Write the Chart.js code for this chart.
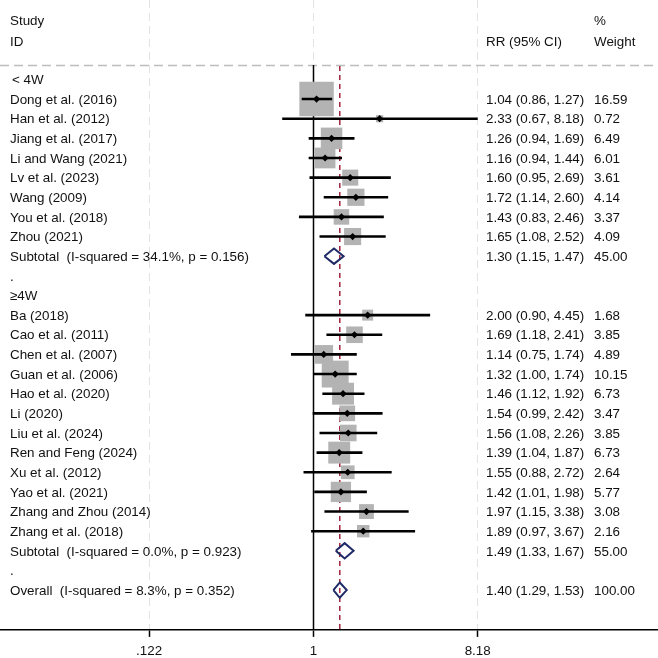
<!DOCTYPE html>
<html>
<head>
<meta charset="utf-8">
<script src="https://cdn.jsdelivr.net/npm/chart.js@4.4.1/dist/chart.umd.min.js"></script>
<style>
  html, body { margin: 0; padding: 0; background: #fff; }
  #wrap { width: 658px; height: 658px; position: relative; }
</style>
</head>
<body>
<div id="wrap"><canvas id="forest"></canvas></div>
<script>
// rows top to bottom
var rowLabels = ['< 4W', 'Dong et al. (2016)', 'Han et al. (2012)', 'Jiang et al. (2017)', 'Li and Wang (2021)',
  'Lv et al. (2023)', 'Wang (2009)', 'You et al. (2018)', 'Zhou (2021)',
  'Subtotal  (I-squared = 34.1%, p = 0.156)', '.', '\u22654W', 'Ba (2018)', 'Cao et al. (2011)',
  'Chen et al. (2007)', 'Guan et al. (2006)', 'Hao et al. (2020)', 'Li (2020)', 'Liu et al. (2024)',
  'Ren and Feng (2024)', 'Xu et al. (2012)', 'Yao et al. (2021)', 'Zhang and Zhou (2014)',
  'Zhang et al. (2018)', 'Subtotal  (I-squared = 0.0%, p = 0.923)', '.',
  'Overall  (I-squared = 8.3%, p = 0.352)'];
var rowKind = ['head', 'study', 'study', 'study', 'study', 'study', 'study', 'study', 'study', 'pool', 'blank', 'head',
  'study', 'study', 'study', 'study', 'study', 'study', 'study', 'study', 'study', 'study', 'study', 'study',
  'pool', 'blank', 'pool'];
var rr = [null, 1.04, 2.33, 1.26, 1.16, 1.60, 1.72, 1.43, 1.65, 1.30, null, null,
  2.00, 1.69, 1.14, 1.32, 1.46, 1.54, 1.56, 1.39, 1.55, 1.42, 1.97, 1.89, 1.49, null, 1.40];
var lo = [null, 0.86, 0.67, 0.94, 0.94, 0.95, 1.14, 0.83, 1.08, 1.15, null, null,
  0.90, 1.18, 0.75, 1.00, 1.12, 0.99, 1.08, 1.04, 0.88, 1.01, 1.15, 0.97, 1.33, null, 1.29];
var hi = [null, 1.27, 8.18, 1.69, 1.44, 2.69, 2.60, 2.46, 2.52, 1.47, null, null,
  4.45, 2.41, 1.74, 1.74, 1.92, 2.42, 2.26, 1.87, 2.72, 1.98, 3.38, 3.67, 1.67, null, 1.53];
var weight = [null, 16.59, 0.72, 6.49, 6.01, 3.61, 4.14, 3.37, 4.09, 45.00, null, null,
  1.68, 3.85, 4.89, 10.15, 6.73, 3.47, 3.85, 6.73, 2.64, 5.77, 3.08, 2.16, 55.00, null, 100.00];
var tickVals = [0.122, 1, 8.18];
var tickLabels = ['.122', '1', '8.18'];
var overallIdx = 26;

var FAMILY = '"Liberation Sans", Arial, sans-serif';
var FONT = '13.4px ' + FAMILY;
var ROW_H = 19.66, ROW0 = 79.5;

var markerPts = [], boxPts = [], boxRadius = [], ciPts = [], diamondPts = [];
for (var i = 0; i < rowKind.length; i++) {
  if (rowKind[i] === 'study') {
    markerPts.push({ x: rr[i], y: i });
    boxPts.push({ x: rr[i], y: i });
    boxRadius.push(8.45 * Math.sqrt(weight[i]) / Math.SQRT2);
    ciPts.push({ x: lo[i], y: i }, { x: hi[i], y: i }, { x: null, y: null });
  } else if (rowKind[i] === 'pool') {
    var h = 0.39;
    diamondPts.push({ x: lo[i], y: i }, { x: rr[i], y: i - h }, { x: hi[i], y: i },
      { x: rr[i], y: i + h }, { x: lo[i], y: i }, { x: null, y: null });
  }
}

var forestText = {
  id: 'forestText',
  beforeDatasetsDraw: function(chart) {
    var ctx = chart.ctx, xs = chart.scales.x, area = chart.chartArea;
    ctx.save();
    // header separator
    ctx.strokeStyle = '#bdbdbd';
    ctx.lineWidth = 1.5;
    ctx.setLineDash([9, 5]);
    ctx.beginPath();
    ctx.moveTo(0, 65.5);
    ctx.lineTo(658, 65.5);
    ctx.stroke();
    // null line
    ctx.setLineDash([]);
    ctx.strokeStyle = '#000';
    ctx.beginPath();
    ctx.moveTo(xs.getPixelForValue(1), 65);
    ctx.lineTo(xs.getPixelForValue(1), area.bottom);
    ctx.stroke();
    // overall effect line
    var ox = xs.getPixelForValue(rr[overallIdx]);
    ctx.strokeStyle = '#a3243b';
    ctx.setLineDash([5, 4]);
    ctx.beginPath();
    ctx.moveTo(ox, 66);
    ctx.lineTo(ox, area.bottom);
    ctx.stroke();
    ctx.restore();
  },
  afterDatasetsDraw: function(chart) {
    var ctx = chart.ctx, ys = chart.scales.y;
    ctx.save();
    ctx.font = FONT;
    ctx.fillStyle = '#111';
    ctx.textBaseline = 'middle';
    ctx.fillText('Study', 10, 21);
    ctx.fillText('ID', 10, 42);
    ctx.fillText('RR (95% CI)', 486, 42);
    ctx.fillText('%', 594, 21);
    ctx.fillText('Weight', 594, 42);
    for (var i = 0; i < rowLabels.length; i++) {
      var y = ys.getPixelForValue(i) + 1;
      ctx.fillText(rowLabels[i], i === 0 ? 12 : 10, y);
      if (rr[i] !== null) {
        ctx.fillText(rr[i].toFixed(2) + ' (' + lo[i].toFixed(2) + ', ' + hi[i].toFixed(2) + ')', 486, y);
        ctx.fillText(weight[i].toFixed(2), 594, y);
      }
    }
    ctx.restore();
  }
};

var bottomPx = 630.5;
new Chart(document.getElementById('forest'), {
  type: 'scatter',
  data: {
    datasets: [
      { label: 'RR', data: markerPts, pointStyle: 'rectRot', pointRadius: 3.6, backgroundColor: '#000', borderWidth: 0 },
      { label: 'CI', data: ciPts, showLine: true, borderColor: '#000', borderWidth: 2.6, pointRadius: 0, spanGaps: false },
      { label: 'Pooled', data: diamondPts, showLine: true, borderColor: '#1f2a66', borderWidth: 2, pointRadius: 0, spanGaps: false, fill: false },
      { label: 'Weight', data: boxPts, pointStyle: 'rect', pointRadius: boxRadius, backgroundColor: '#b3b3b3', borderWidth: 0 }
    ]
  },
  options: {
    responsive: true,
    maintainAspectRatio: false,
    animation: false,
    events: [],
    layout: { padding: { top: 0, left: 0, right: 0, bottom: -7 }, autoPadding: false },
    plugins: { legend: { display: false }, tooltip: { enabled: false } },
    scales: {
      x: {
        type: 'logarithmic',
        min: Math.exp(-313.5 / 78.13),
        max: Math.exp((658 - 313.5) / 78.13),
        afterBuildTicks: function(scale) {
          scale.ticks = tickVals.map(function(v) { return { value: v }; });
        },
        ticks: {
          autoSkip: false,
          maxRotation: 0,
          padding: 6,
          color: '#111',
          font: { family: FAMILY, size: 13.4 },
          callback: function(value, index) { return tickLabels[index]; }
        },
        grid: { color: '#e3e3e3', lineWidth: 1, tickLength: 7, tickColor: '#000', tickWidth: 1.5 },
        border: { color: '#000', width: 1.5, dash: [8, 5] }
      },
      y: {
        display: false,
        reverse: true,
        min: -ROW0 / ROW_H,
        max: (bottomPx - ROW0) / ROW_H
      }
    }
  },
  plugins: [forestText]
});
</script>
</body>
</html>
